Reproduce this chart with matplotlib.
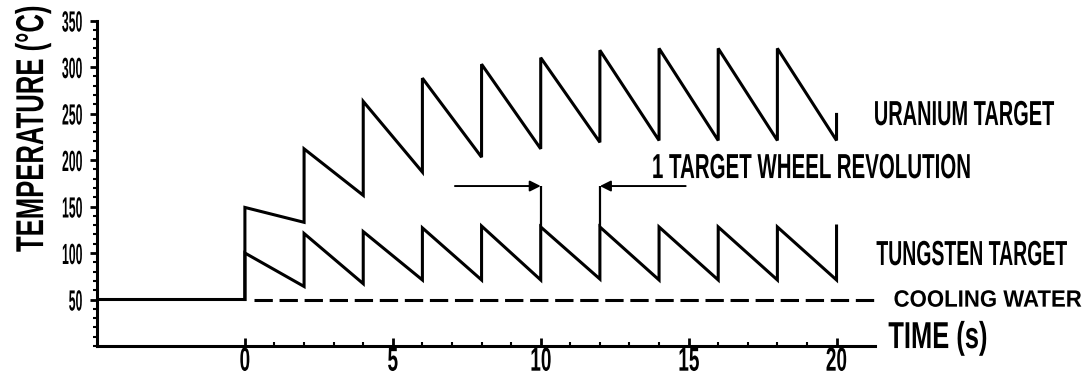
import numpy as np
import matplotlib.pyplot as plt
from matplotlib import patheffects
from matplotlib.transforms import Affine2D

# corners of the two sawtooth curves, time [s] and temperature [deg C]
time_u = [-5, 0, 0, 2, 2, 4, 4, 6, 6, 8, 8, 10, 10, 12, 12, 14, 14, 16, 16, 18, 18, 20, 20]
uranium = [50, 50, 149, 133, 212, 162, 263, 187, 288, 203, 303, 212, 310, 219, 318,
           221, 320, 221, 320, 221, 320, 221, 249]
time_w = [0, 0, 2, 2, 4, 4, 6, 6, 8, 8, 10, 10, 12, 12, 14, 14, 16, 16, 18, 18, 20, 20]
tungsten = [50, 100, 64, 121, 67, 123, 71, 127, 71, 129, 71, 128, 72, 128,
            71, 128, 71, 128, 71, 128, 71, 129]
cooling_t = [0.3, 21.3]
cooling = [50, 50]

# one target wheel revolution marker
rev_t = [10, 12]
rev_base = [128, 128]
rev_level = 172
rev_tails = [7.1, 14.9]

yticks = [50, 100, 150, 200, 250, 300, 350]
xticks = [0, 5, 10, 15, 20]


class Squeeze(patheffects.AbstractPathEffect):
    '''Scale the glyphs of a text along its writing direction
    @param[in]  sx      scale factor along the text
    @param[in]  anchor  0 keeps the start of the text, 0.5 the middle, 1 the end'''
    def __init__(self, sx, anchor=0.0):
        super().__init__()
        self.sx = sx
        self.anchor = anchor

    def draw_path(self, renderer, gc, tpath, affine, rgbFace=None):
        ext = tpath.get_extents()
        x0 = ext.x0 + self.anchor * ext.width
        sq = Affine2D().translate(-x0, 0).scale(self.sx, 1).translate(x0, 0)
        renderer.draw_path(gc, tpath, sq + affine, rgbFace)


plt.rcParams['font.family'] = ['Liberation Sans', 'DejaVu Sans']
plt.rcParams['font.weight'] = 'bold'

fig = plt.figure(figsize=(10.87, 3.78), dpi=100)
ax = fig.add_axes([97 / 1087, 32 / 378, 778 / 1087, 325.5 / 378])

lw = 2.2
ax.plot(time_u, uranium, color='k', lw=lw, solid_joinstyle='miter')
ax.plot(time_w, tungsten, color='k', lw=lw, solid_joinstyle='miter')
ax.plot(cooling_t, cooling, color='k', lw=lw, dashes=(6, 2.2))
ax.vlines(rev_t, rev_base, rev_level, color='k', lw=1.6)
for tip, tail in zip(rev_t, rev_tails):
    ax.annotate('', xy=(tip, rev_level), xytext=(tail, rev_level),
                arrowprops=dict(arrowstyle='-|>', color='k', lw=1.4,
                                mutation_scale=16, shrinkA=0, shrinkB=0))

ax.set_xlim(-5, 21.3)
ax.set_ylim(0, 350)
for side in ['top', 'right']:
    ax.spines[side].set_visible(False)
ax.spines['left'].set_linewidth(lw)
ax.spines['bottom'].set_linewidth(lw)

ax.set_yticks(yticks, [str(v) for v in yticks])
ax.set_yticks(np.arange(0, 351, 10), minor=True)
ax.set_xticks(xticks, [str(v) for v in xticks])
ax.set_xticks(np.arange(0, 21, 1), minor=True)
ax.tick_params(axis='y', which='major', direction='out', length=5, width=2,
               pad=5, labelsize=21)
ax.tick_params(axis='y', which='minor', direction='out', length=3, width=1.5)
ax.tick_params(axis='x', which='major', direction='in', length=6, width=2,
               pad=0.5, labelsize=24)
ax.tick_params(axis='x', which='minor', direction='in', length=3, width=1.5)
for lab in ax.get_yticklabels():
    lab.set_path_effects([Squeeze(0.42, 1.0)])
for lab in ax.get_xticklabels():
    lab.set_path_effects([Squeeze(0.57, 0.5)])

ax.set_ylabel('TEMPERATURE (°C)', fontsize=28, fontweight='bold', loc='top',
              path_effects=[Squeeze(0.66, 1.0)])
ax.yaxis.set_label_coords(-0.059, 1.047)

txt = dict(ha='right', va='baseline', color='k', clip_on=False)
ax.text(27.39, 237.6, 'URANIUM TARGET', fontsize=25,
        path_effects=[Squeeze(0.575, 1.0)], **txt)
ax.text(27.83, 87.1, 'TUNGSTEN TARGET', fontsize=25,
        path_effects=[Squeeze(0.56, 1.0)], **txt)
ax.text(28.30, 42.3, 'COOLING WATER', fontsize=17,
        path_effects=[Squeeze(0.94, 1.0)], **txt)
ax.text(25.12, -2.2, 'TIME (s)', fontsize=27,
        path_effects=[Squeeze(0.68, 1.0)], **txt)
ax.text(24.61, 180.6, '1 TARGET WHEEL REVOLUTION', fontsize=25,
        path_effects=[Squeeze(0.59, 1.0)], **txt)

fig.savefig('out.png', dpi=100)
